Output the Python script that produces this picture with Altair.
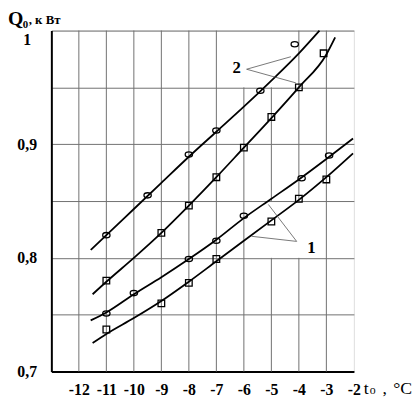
import altair as alt
import pandas as pd

# ---- measured points ----
x_c2 = [-11, -9.5, -8, -7, -5.4, -4.15]
y_c2 = [0.820, 0.855, 0.891, 0.912, 0.947, 0.988]
x_s2 = [-11, -9, -8, -7, -6, -5, -4, -3.1]
y_s2 = [0.780, 0.822, 0.846, 0.871, 0.897, 0.924, 0.950, 0.980]
x_c1 = [-11, -10, -8, -7, -6, -3.9, -2.9]
y_c1 = [0.751, 0.769, 0.799, 0.815, 0.837, 0.870, 0.890]
x_s1 = [-11, -9, -8, -7, -5, -4, -3]
y_s1 = [0.737, 0.760, 0.778, 0.799, 0.832, 0.852, 0.869]

# ---- fitted curves ----
cx_2a = [-11.57, -11, -10, -9, -8, -7, -6, -5, -4, -3.25]
cy_2a = [0.807, 0.820, 0.843, 0.866, 0.889, 0.911, 0.933, 0.956, 0.980, 1.0]
cx_2b = [-11.5, -11, -10, -9, -8, -7, -6, -5, -4, -3, -2.68]
cy_2b = [0.768, 0.779, 0.800, 0.822, 0.846, 0.871, 0.897, 0.923, 0.950, 0.979, 0.994]
cx_1a = [-11.57, -11, -10, -9, -8, -7, -6, -5, -4, -3, -2.03]
cy_1a = [0.745, 0.752, 0.768, 0.783, 0.799, 0.816, 0.835, 0.852, 0.869, 0.887, 0.905]
cx_1b = [-11.5, -11, -10, -9, -8, -7, -6, -5, -4, -3, -2.03]
cy_1b = [0.725, 0.733, 0.747, 0.762, 0.779, 0.797, 0.815, 0.833, 0.851, 0.871, 0.892]

x_ticks = [-12, -11, -10, -9, -8, -7, -6, -5, -4, -3, -2]
y_ticks = [0.7, 0.75, 0.8, 0.85, 0.9, 0.95, 1.0]

# vertical grid segments
vg_x = [-12, -11, -10, -9, -8, -7, -6, -5, -5, -4, -4, -3]
vg_y1 = [0.7, 0.7, 0.7, 0.7, 0.7, 0.7, 0.7, 0.7, 0.85, 0.7, 0.85, 0.7]
vg_y2 = [1.0, 1.0, 1.0, 1.0, 1.0, 1.0, 0.95, 0.8, 0.95, 0.8, 1.0, 1.0]

# callouts
lab_text = ["2", "1"]
lab_x = [-6.26, -3.54]
lab_y = [0.967, 0.809]
co_x1 = [-5.9, -5.9, -4.08, -4.08]
co_y1 = [0.966, 0.966, 0.8145, 0.8145]
co_x2 = [-4.29, -4.11, -5.11, -5.72]
co_y2 = [0.977, 0.954, 0.847, 0.819]

FONT = "Liberation Serif"
GRID = "#707070"

def frame(xs, ys, name):
    return pd.DataFrame({"x": xs, "y": ys, "s": name})

pts_c = pd.concat([frame(x_c2, y_c2, "c2"), frame(x_c1, y_c1, "c1")])
pts_s = pd.concat([frame(x_s2, y_s2, "s2"), frame(x_s1, y_s1, "s1")])
curves = pd.concat([frame(cx_2a, cy_2a, "2a"), frame(cx_2b, cy_2b, "2b"),
                    frame(cx_1a, cy_1a, "1a"), frame(cx_1b, cy_1b, "1b")])
vgrid = pd.DataFrame({"x": vg_x, "y": vg_y1, "y2": vg_y2})
labels = pd.DataFrame({"x": lab_x, "y": lab_y, "t": lab_text})
callouts = pd.DataFrame({"x": co_x1, "y": co_y1, "x2": co_x2, "y2": co_y2})

xsc = alt.Scale(domain=[-13, -2], nice=False, zero=False)
ysc = alt.Scale(domain=[0.7, 1.0], nice=False, zero=False)

xaxis = alt.Axis(values=x_ticks, title=None, grid=False, ticks=False, tickSize=0,
                 domainColor="black", domainWidth=2, labelFont=FONT,
                 labelFontWeight="bold", labelFontSize=16, labelColor="black",
                 labelPadding=18, labelBaseline="middle", labelFlush=False,
                 labelExpr="datum.value < 0 ? '-' + abs(datum.value) : '' + datum.value")
yaxis = alt.Axis(values=y_ticks, title=None, grid=True, gridColor=GRID, gridWidth=1,
                 gridOpacity=1, ticks=False, tickSize=0, domainColor="black",
                 domainWidth=2, labelFont=FONT, labelFontWeight="bold",
                 labelFontSize=16, labelColor="black", labelAlign="center",
                 labelPadding=25, labelBaseline="middle", labelFlush=False,
                 labelOffset={"condition": {"test": "datum.value > 0.99", "value": 9}, "value": 0},
                 labelExpr="datum.value > 0.99 ? '1' : (round(datum.value*100) % 10 == 0 ? replace(format(datum.value, '.1f'), '.', ',') : '')")

X = alt.X("x:Q", scale=xsc, axis=xaxis)
Y = alt.Y("y:Q", scale=ysc, axis=yaxis)

grid_layer = alt.Chart(vgrid).mark_rule(color=GRID, strokeWidth=1).encode(
    x=X, y=Y, y2="y2:Q")

lines = alt.Chart(curves).mark_line(color="black", strokeWidth=1.8, interpolate="monotone").encode(
    x=X, y=Y, detail="s:N")

ellipse = "M -1 0 A 1 0.72 0 1 1 1 0 A 1 0.72 0 1 1 -1 0 Z"
circles = alt.Chart(pts_c).mark_point(shape=ellipse, filled=False, color="black",
                                      size=55, strokeWidth=1.3, opacity=1).encode(x=X, y=Y)
squares = alt.Chart(pts_s).mark_point(shape="square", filled=False, color="black",
                                      size=45, strokeWidth=1.3, opacity=1).encode(x=X, y=Y)

co_layer = alt.Chart(callouts).mark_rule(color="#555555", strokeWidth=0.8).encode(
    x=X, y=Y, x2="x2:Q", y2="y2:Q")
lab_layer = alt.Chart(labels).mark_text(font=FONT, fontWeight="bold", fontSize=17,
                                        color="black", baseline="middle", align="center").encode(
    x=X, y=Y, text="t:N")

def ptext(txt, x, y, size, weight="bold", align="left"):
    return alt.Chart(pd.DataFrame({"t": [txt]})).mark_text(
        font=FONT, fontWeight=weight, fontSize=size, color="black",
        baseline="alphabetic", align=align).encode(
        x=alt.value(x), y=alt.value(y), text="t:N")

titles = [
    ptext("Q", -44, -6, 20),
    ptext("0", -29, -3, 11),
    ptext(", к Вт", -23, -7, 13),
    ptext("t", 317, 369, 18, "normal"),
    ptext("o", 323, 369, 12, "normal"),
    ptext(",", 336, 369, 18, "normal"),
    ptext("°C", 347, 369, 18, "normal"),
]

chart = alt.layer(grid_layer, lines, circles, squares, co_layer, lab_layer, *titles).properties(
    width=307, height=346,
    autosize=alt.AutoSizeParams(type="none"),
    padding={"left": 44, "top": 20, "right": 59, "bottom": 27},
).configure_view(stroke=GRID, strokeWidth=1).configure(background="white")

chart.save("out.html", embed_options={"renderer": "svg", "actions": False})
